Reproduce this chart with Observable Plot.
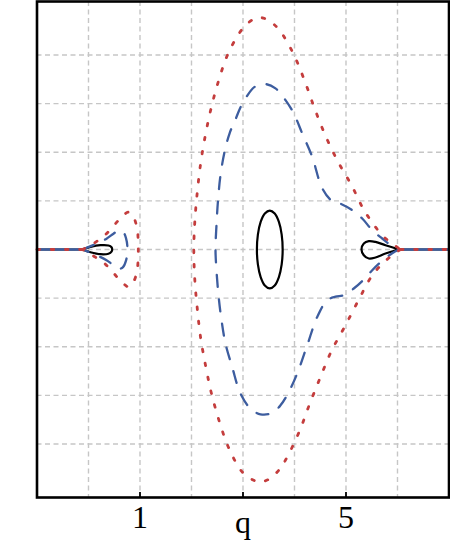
<!DOCTYPE html>
<html>
<head>
<meta charset="utf-8">
<script src="https://cdn.jsdelivr.net/npm/d3@7"></script>
<script src="https://cdn.jsdelivr.net/npm/@observablehq/plot@0.6"></script>
<style>
  html, body { margin: 0; padding: 0; background: #fff; }
</style>
</head>
<body>
<div id="chart"></div>
<script>
// ---- axis / grid data ----
const xTicks = [1, 3, 5];
const xTickLabels = ["1", "", "5"];
const xGridValues = [0, 1, 2, 3, 4, 5, 6];
const yGridValues = [-4, -3, -2, -1, 0, 1, 2, 3, 4];
const xAxisLabel = "q";

// ---- solid black curves ----
const blackLeftLoop = [[-0.117,0],[0.039,0.053],[0.233,0.088],[0.388,0.082],[0.447,0.047],[0.46,0],[0.447,-0.045],[0.388,-0.086],[0.233,-0.097],[0.039,-0.056],[-0.117,0]];
const blackEllipse = [[3.77,0],[3.751,0.306],[3.697,0.566],[3.616,0.739],[3.52,0.80],[3.424,0.739],[3.343,0.566],[3.289,0.306],[3.27,0],[3.289,-0.306],[3.343,-0.566],[3.424,-0.739],[3.52,-0.80],[3.616,-0.739],[3.697,-0.566],[3.751,-0.306]];
const blackRightLoop = [[6.03,0],[5.767,0.088],[5.573,0.156],[5.443,0.171],[5.346,0.123],[5.301,0],[5.346,-0.117],[5.443,-0.185],[5.573,-0.165],[5.767,-0.082],[6.03,0]];
const blackAxisLeft = [[-1,0],[-0.117,0]];
const blackAxisRight = [[6.03,0],[7,0]];

// ---- dashed blue curves ----
const blueLeft = [[-0.117,0],[0.155,0.119],[0.350,0.222],[0.485,0.325],[0.592,0.397],[0.670,0.366],[0.728,0.233],[0.757,0],[0.728,-0.230],[0.670,-0.364],[0.592,-0.397],[0.485,-0.323],[0.350,-0.220],[0.155,-0.117],[-0.117,0]];
const blueBig = [[6.025,0],[5.897,-0.076],[5.703,-0.230],[5.509,-0.426],[5.346,-0.617],[5.151,-0.802],[4.957,-0.940],[4.796,-0.971],[4.635,-1.043],[4.441,-1.387],[4.247,-1.969],[4.052,-2.551],[3.889,-2.930],[3.728,-3.204],[3.567,-3.362],[3.340,-3.389],[3.146,-3.272],[2.951,-2.963],[2.790,-2.416],[2.660,-1.934],[2.583,-1.455],[2.524,-0.940],[2.485,-0.426],[2.466,0],[2.485,0.500],[2.515,1.014],[2.563,1.529],[2.640,2.0],[2.740,2.39],[2.854,2.675],[2.950,2.922],[3.068,3.14],[3.229,3.346],[3.437,3.401],[3.631,3.313],[3.825,3.072],[3.986,2.798],[4.150,2.387],[4.344,1.905],[4.538,1.261],[4.732,0.994],[4.893,0.942],[5.120,0.809],[5.315,0.638],[5.509,0.397],[5.703,0.226],[5.897,0.068],[6.025,0]];
const blueAxisLeft = [[-1,0],[-0.117,0]];
const blueAxisRight = [[6.025,0],[7,0]];

// ---- dotted red curves ----
const redLeft = [[-0.117,0],[0.117,0.136],[0.330,0.305],[0.660,0.685],[0.777,0.767],[0.874,0.665],[0.942,0.438],[0.965,0.191],[0.967,0],[0.965,-0.191],[0.942,-0.438],[0.874,-0.665],[0.777,-0.767],[0.660,-0.685],[0.330,-0.305],[0.103,-0.138],[-0.117,0]];
const redBig = [[6.058,0],[5.897,-0.117],[5.703,-0.300],[5.509,-0.529],[5.249,-1.029],[4.990,-1.558],[4.718,-2.086],[4.505,-2.621],[4.297,-3.169],[4.097,-3.733],[3.858,-4.267],[3.709,-4.521],[3.501,-4.726],[3.340,-4.775],[3.243,-4.761],[2.996,-4.588],[2.724,-4.082],[2.538,-3.527],[2.388,-2.963],[2.272,-2.381],[2.175,-1.798],[2.111,-1.202],[2.064,-0.617],[2.045,0],[2.064,0.568],[2.111,1.165],[2.175,1.749],[2.266,2.331],[2.383,2.914],[2.530,3.484],[2.713,4.033],[2.996,4.547],[3.210,4.739],[3.340,4.770],[3.482,4.718],[3.695,4.527],[3.975,4.033],[4.194,3.477],[4.383,2.922],[4.588,2.372],[4.829,1.837],[5.107,1.323],[5.359,0.794],[5.703,0.294],[5.897,0.123],[6.058,0]];
const redAxisLeft = [[-1,0],[-0.117,0]];
const redAxisRight = [[6.058,0],[7,0]];

// ---- styles ----
const BLACK = "#000000";
const BLUE = "#3d5d9f";
const RED = "#c43d3d";
const gridStyle = {stroke: "#c6c6c6", strokeOpacity: 1, strokeWidth: 1.4, strokeDasharray: "5,3.5"};
const blackStyle = {stroke: BLACK, strokeWidth: 2.2, curve: "catmull-rom"};
const blueStyle = {stroke: BLUE, strokeWidth: 2.3, strokeDasharray: "12,12.5", curve: "catmull-rom"};
const redStyle = {stroke: RED, strokeWidth: 2.8, strokeDasharray: "2.6,11.6", curve: "catmull-rom"};

const L = (data, opts) => Plot.line(data, {x: d => d[0], y: d => d[1], ...opts});

const chart = Plot.plot({
  width: 450,
  height: 542,
  marginLeft: 36.5,
  marginRight: 1.5,
  marginTop: 1,
  marginBottom: 45,
  x: {domain: [-1, 7]},
  y: {domain: [-5.1, 5.1], axis: null},
  style: {background: "#fff", fontFamily: "'Liberation Serif', serif", fontSize: "32px", color: "#000"},
  marks: [
    Plot.gridX(xGridValues, gridStyle),
    Plot.gridY(yGridValues, gridStyle),
    L(blackAxisLeft, {stroke: BLACK, strokeWidth: 2.2}),
    L(blackAxisRight, {stroke: BLACK, strokeWidth: 2.2}),
    L(blackLeftLoop, blackStyle),
    L(blackEllipse, {...blackStyle, curve: "catmull-rom-closed"}),
    L(blackRightLoop, blackStyle),
    L(blueAxisLeft, {stroke: BLUE, strokeWidth: 2.3}),
    L(blueAxisRight, {stroke: BLUE, strokeWidth: 2.3}),
    L(blueLeft, blueStyle),
    L(blueBig, blueStyle),
    L(redAxisLeft, {...redStyle, curve: "linear"}),
    L(redAxisRight, {...redStyle, curve: "linear"}),
    L(redLeft, redStyle),
    L(redBig, redStyle),
    Plot.frame({stroke: BLACK, strokeWidth: 2.6}),
    Plot.axisX(xTicks, {tickSize: -5, strokeWidth: 1.8, tickFormat: () => "", label: null}),
    Plot.axisX(xTicks, {tickSize: 0, tickPadding: 8, fontSize: 32, label: null,
      tickFormat: d => xTickLabels[xTicks.indexOf(d)]}),
    Plot.text([xAxisLabel], {frameAnchor: "bottom", text: d => d, dy: 13, lineAnchor: "top", fontSize: 32})
  ]
});
document.getElementById("chart").appendChild(chart);
</script>
</body>
</html>
